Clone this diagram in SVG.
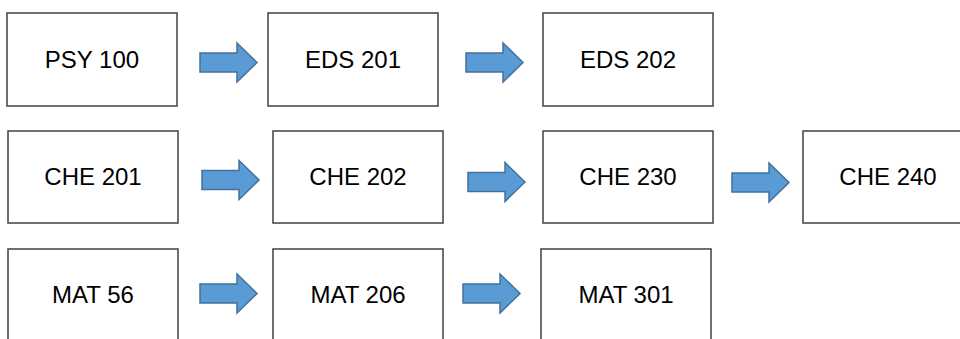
<svg xmlns="http://www.w3.org/2000/svg" xmlns:xlink="http://www.w3.org/1999/xlink" width="960" height="339" viewBox="0 0 960 339">
  <style>
    .box { fill: #ffffff; stroke: #404040; stroke-width: 1.5; }
    .lbl { font-family: "Liberation Sans", Arial, sans-serif; font-size: 24px; fill: #000000; text-anchor: middle; }
    .arr { fill: #5B9BD5; stroke: #41719C; stroke-width: 1.5; stroke-linejoin: miter; }
  </style>
  <defs>
    <path id="arrow" d="M0,-9.5 H37 V-19.5 L57,0 L37,19.5 V9.5 H0 Z"/>
  </defs>
  <rect width="960" height="339" fill="#ffffff"/>

  <g id="psy100"><rect class="box" x="7" y="13" width="170" height="93"/><text class="lbl" x="92" y="68">PSY 100</text></g>
  <g id="eds201"><rect class="box" x="268" y="13" width="170" height="93"/><text class="lbl" x="353" y="68">EDS 201</text></g>
  <g id="eds202"><rect class="box" x="543" y="13" width="170" height="93"/><text class="lbl" x="628" y="68">EDS 202</text></g>

  <g id="che201"><rect class="box" x="8" y="131" width="170" height="92"/><text class="lbl" x="93" y="185">CHE 201</text></g>
  <g id="che202"><rect class="box" x="273" y="131" width="170" height="92"/><text class="lbl" x="358" y="185">CHE 202</text></g>
  <g id="che230"><rect class="box" x="543" y="131" width="170" height="92"/><text class="lbl" x="628" y="185">CHE 230</text></g>
  <g id="che240"><rect class="box" x="803" y="131" width="170" height="92"/><text class="lbl" x="888" y="185">CHE 240</text></g>

  <g id="mat56"><rect class="box" x="8" y="249" width="170" height="93"/><text class="lbl" x="93" y="303">MAT 56</text></g>
  <g id="mat206"><rect class="box" x="273" y="249" width="170" height="93"/><text class="lbl" x="358" y="303">MAT 206</text></g>
  <g id="mat301"><rect class="box" x="541" y="249" width="170" height="93"/><text class="lbl" x="626" y="303">MAT 301</text></g>

  <g id="connectors">
    <use class="arr" href="#arrow" xlink:href="#arrow" x="200" y="62.5"/>
    <use class="arr" href="#arrow" xlink:href="#arrow" x="466" y="62.5"/>
    <use class="arr" href="#arrow" xlink:href="#arrow" x="202" y="180"/>
    <use class="arr" href="#arrow" xlink:href="#arrow" x="468" y="182"/>
    <use class="arr" href="#arrow" xlink:href="#arrow" x="732" y="182.5"/>
    <use class="arr" href="#arrow" xlink:href="#arrow" x="200" y="293.5"/>
    <use class="arr" href="#arrow" xlink:href="#arrow" x="463" y="293.5"/>
  </g>
</svg>
